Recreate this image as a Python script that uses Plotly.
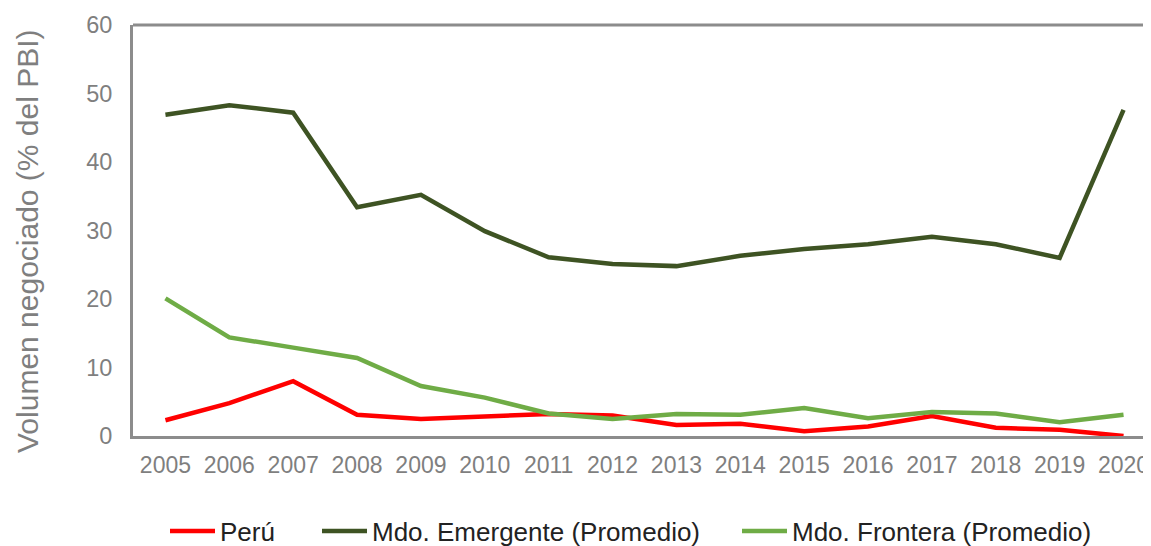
import plotly.graph_objects as go

years = [str(y) for y in range(2005, 2021)]
peru = [2.3, 4.8, 8.0, 3.1, 2.5, 2.9, 3.2, 3.0, 1.6, 1.8, 0.7, 1.4, 2.9, 1.2, 0.9, 0.0]
emergente = [46.9, 48.3, 47.2, 33.4, 35.2, 29.9, 26.1, 25.1, 24.8, 26.3, 27.3, 28.0, 29.1, 28.0, 26.0, 47.6]
frontera = [20.1, 14.4, 12.9, 11.4, 7.3, 5.6, 3.3, 2.5, 3.2, 3.1, 4.1, 2.6, 3.5, 3.3, 2.0, 3.1]
y_title = "Volumen negociado (% del PBI)"

names = ["Perú", "Mdo. Emergente (Promedio)", "Mdo. Frontera (Promedio)"]
colors = ["#ff0000", "#3e5323", "#6fac46"]
series = [peru, emergente, frontera]
legend_ids = ["legend", "legend2", "legend3"]

W, H = 1143, 538
fig = go.Figure()
for name, vals, col, lg in zip(names, series, colors, legend_ids):
    fig.add_trace(go.Scatter(x=list(range(len(years))), y=vals, name=name, mode="lines",
                             line=dict(color=col, width=4.5), legend=lg))

leg_x_px = [165, 317, 737]  # window px
legend_common = dict(orientation="h", xref="container", yref="container",
                     xanchor="left", yanchor="middle", y=15 / H, itemwidth=45,
                     font=dict(color="#222222", size=26, family="Liberation Sans, Arial, sans-serif"),
                     bgcolor="rgba(0,0,0,0)")
layout_legends = {}
for lg, px in zip(legend_ids, leg_x_px):
    layout_legends[lg] = dict(legend_common, x=(px - 8) / W)

fig.update_layout(
    width=W, height=H,
    margin=dict(l=125, r=0, t=17, b=110),
    paper_bgcolor="white", plot_bgcolor="white",
    font=dict(family="Liberation Sans, Arial, sans-serif", color="#7f7f7f", size=23.5),
    showlegend=True,
    **layout_legends,
)
fig.update_xaxes(
    range=[-0.508, 15.43], tickmode="array", tickvals=list(range(len(years))), ticktext=years,
    showgrid=False, zeroline=False, showline=True, linecolor="#8c8c8c", linewidth=3,
    mirror=False, ticks="", ticklabelstandoff=6, ticklabeloverflow="allow",
    tickfont=dict(size=23),
)
fig.update_yaxes(
    range=[0, 60], dtick=10, showgrid=False, zeroline=False, showline=True,
    linecolor="#8c8c8c", linewidth=3, ticks="", ticklabelstandoff=13,
)
fig.add_annotation(text=y_title, textangle=-90, xref="paper", yref="paper",
                   x=(27 - 133) / 1018, y=(436 - 241) / 411, xanchor="center", yanchor="middle",
                   showarrow=False, font=dict(size=30, color="#7f7f7f"))
fig.add_shape(type="line", xref="paper", yref="paper", x0=0, x1=1, y0=1, y1=1,
              line=dict(color="#8c8c8c", width=3))

fig.write_html("out.html")
